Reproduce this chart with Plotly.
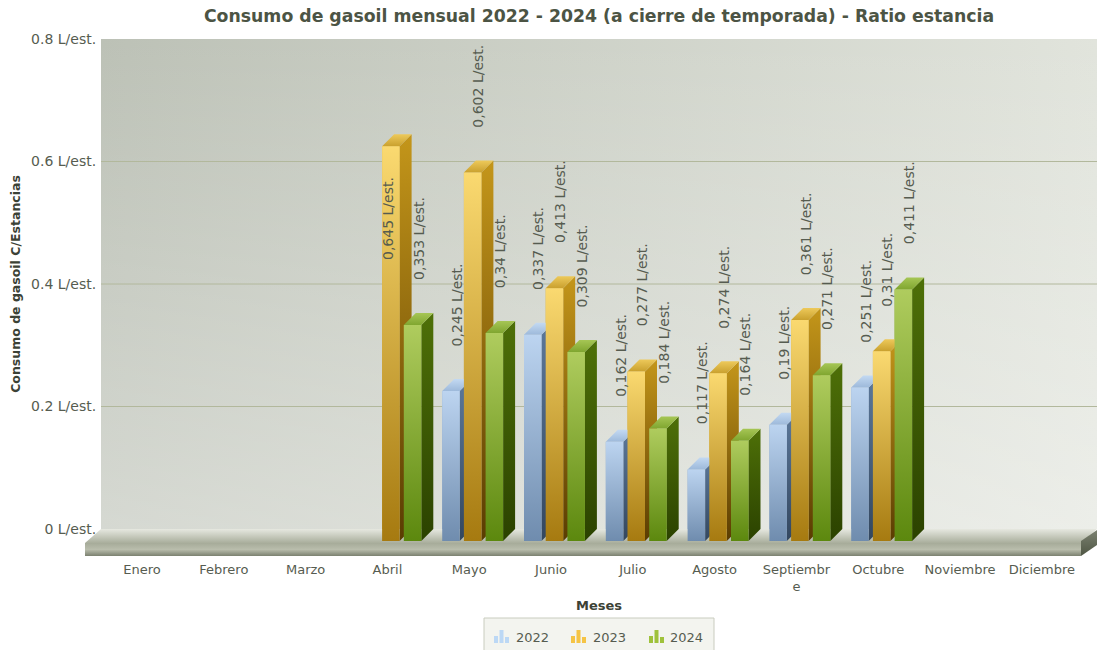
import plotly.graph_objects as go

months = ["Enero","Febrero","Marzo","Abril","Mayo","Junio","Julio","Agosto","Septiembre","Octubre","Noviembre","Diciembre"]
month_ticks = ["Enero","Febrero","Marzo","Abril","Mayo","Junio","Julio","Agosto","Septiembr<br>e","Octubre","Noviembre","Diciembre"]
values_2022 = [None,None,None,None,0.245,0.337,0.162,0.117,0.19,0.251,None,None]
values_2023 = [None,None,None,0.645,0.602,0.413,0.277,0.274,0.361,0.31,None,None]
values_2024 = [None,None,None,0.353,0.34,0.309,0.184,0.164,0.271,0.411,None,None]
y_ticks = [0,0.2,0.4,0.6,0.8]
y_tick_text = ["0 L/est.","0.2 L/est.","0.4 L/est.","0.6 L/est.","0.8 L/est."]

W,H = 1099,650
L,R,T,B = 85,1097,39,556
CAT0,CATW = 142,81.8
YPX,Y0 = 612,541
def cx(px): return (px-CAT0)/CATW
def vy(py): return (Y0-py)/YPX
def px_(x): return (x-L)/(R-L)
def py_(y): return (B-y)/(B-T)

series = [
 dict(name="2022",vals=values_2022,k=0,base="#8fa9c8",front=["#6f8cae","#bcd4f0"],side=["#33475f","#5c789a"],top=["#9db9da","#c3d9f2"],icon="#bcd8f5"),
 dict(name="2023",vals=values_2023,k=1,base="#d0a83a",front=["#a67a10","#fad970"],side=["#5a3c02","#c4961a"],top=["#c9a02e","#edc95a"],icon="#f5c445"),
 dict(name="2024",vals=values_2024,k=2,base="#86a836",front=["#5c880e","#afcc5e"],side=["#2b4200","#4e7008"],top=["#80a630","#a6c655"],icon="#9fc23c"),
]
BW = 17.5/CATW
PITCH = 21.7/CATW
OFF0 = -27/CATW
DX,DY = 12/CATW,12/YPX

fig = go.Figure()

# back wall (xaxis/yaxis)
wx = [0,1,1,0,0]; wy=[0,0,0.8,0.8,0]
fig.add_trace(go.Scatter(x=wx,y=wy,mode="none",fill="toself",hoverinfo="skip",showlegend=False,
    fillgradient=dict(type="horizontal",colorscale=[[0,"#bcc1b6"],[1,"#e1e4dc"]])))
fig.add_trace(go.Scatter(x=wx,y=wy,mode="none",fill="toself",hoverinfo="skip",showlegend=False,
    fillgradient=dict(type="vertical",colorscale=[[0,"rgba(255,255,255,0.38)"],[1,"rgba(255,255,255,0)"]])))
for t in y_ticks[1:4]:
    fig.add_trace(go.Scatter(x=[0,1],y=[t,t],mode="lines",line=dict(color="#b2b89c",width=1),hoverinfo="skip",showlegend=False))

xa,ya = "x2","y2"
def poly(xs,ys,stops):
    fig.add_trace(go.Scatter(x=xs+xs[:1],y=ys+ys[:1],mode="none",fill="toself",xaxis=xa,yaxis=ya,hoverinfo="skip",showlegend=False,
        fillgradient=dict(type="vertical",colorscale=[[i/(len(stops)-1),c] for i,c in enumerate(stops)])))

# floor and plinth
fl,fr,bl,br = cx(85),cx(1081),cx(101),cx(1097)
poly([fl,fr,br,bl],[vy(543),vy(543),vy(529),vy(529)],["#a9ae9c","#e6e8e0"])
poly([fl,fr,fr,fl],[vy(556),vy(556),vy(543),vy(543)],["#7b8170","#b9bdac","#a6ab99"])
poly([fr,br,br,fr],[vy(556),vy(545),vy(530),vy(541)],["#4f5644","#7b8170"])

# real bars
for s in series:
    xs=[i+OFF0+PITCH*s["k"]+BW/2 for i in range(12)]
    fig.add_trace(go.Bar(x=xs,y=s["vals"],width=BW,marker=dict(color=s["base"],line=dict(width=0)),name=s["name"],
        xaxis=xa,yaxis=ya,showlegend=False,hovertemplate="%{y} L/est.<extra>"+s["name"]+"</extra>"))

# 3D faces, left to right so that each bar covers the side of the previous one
for i in range(12):
    for s in series:
        v=s["vals"][i]
        if v is None: continue
        x0=i+OFF0+PITCH*s["k"]; x1=x0+BW
        poly([x1,x1+DX,x1+DX,x1],[0,DY,v+DY,v],s["side"])
        poly([x0,x1,x1+DX,x0+DX],[v,v,v+DY,v+DY],s["top"])
        poly([x0,x1,x1,x0],[0,0,v,v],s["front"])

# value labels
annotations=[]
for i in range(12):
    for s in series:
        v=s["vals"][i]
        if v is None: continue
        x1=i+OFF0+PITCH*s["k"]+BW
        inside = v>0.62
        annotations.append(dict(x=x1-(11 if inside else 3)/CATW,y=v-0.189 if inside else v+0.07,xref="x2",yref="y2",
            text=f"{v:g}".replace(".",",")+" L/est.",textangle=-90,showarrow=False,yanchor="bottom",xanchor="center",
            font=dict(family="DejaVu Sans",size=14,color="#565c50")))
annotations.append(dict(x=px_(599),y=py_(605),xref="paper",yref="paper",text="<b>Meses</b>",showarrow=False,
    xanchor="center",yanchor="middle",font=dict(family="DejaVu Sans",size=13,color="#3c4236")))

# legend box and icon glyphs
shapes=[dict(type="rect",xref="paper",yref="paper",x0=px_(484),x1=px_(714),y0=py_(660),y1=py_(618),
    fillcolor="#f3f4ef",line=dict(color="#c9ccbf",width=1),layer="below")]
for s,ix in zip(series,[494,571,649]):
    for dx,hh in [(0,7),(5.5,13),(11,6)]:
        shapes.append(dict(type="rect",xref="paper",yref="paper",x0=px_(ix+dx),x1=px_(ix+dx+4),y0=py_(643),y1=py_(643-hh),
            fillcolor=s["icon"],line=dict(width=0),layer="above"))
    fig.add_trace(go.Scatter(x=[None],y=[None],mode="markers",name=s["name"],marker=dict(color="rgba(0,0,0,0)",size=8),xaxis=xa,yaxis=ya,hoverinfo="skip"))

fig.update_layout(
    width=W,height=H,
    margin=dict(l=L,r=W-R,t=T,b=H-B,autoexpand=False),
    paper_bgcolor="white",plot_bgcolor="rgba(0,0,0,0)",
    barmode="overlay",
    title=dict(text="<b>Consumo de gasoil mensual 2022 - 2024 (a cierre de temporada) - Ratio estancia</b>",
        x=px_(599),xref="paper",xanchor="center",y=1-16/H,yanchor="middle",yref="container",
        font=dict(family="DejaVu Sans",size=17.3,color="#4c5444")),
    xaxis=dict(domain=[px_(101),1],range=[0,1],visible=False,fixedrange=True),
    yaxis=dict(domain=[py_(529),1],range=[0,0.8],tickvals=y_ticks,ticktext=y_tick_text,
        tickfont=dict(family="DejaVu Sans",size=14,color="#565c50"),
        showgrid=False,zeroline=False,ticks="outside",ticklen=1,tickcolor="rgba(0,0,0,0)",showline=False,
        title=dict(text="<b>Consumo de gasoil C/Estancias</b>",font=dict(family="DejaVu Sans",size=12.5,color="#3c4236"),standoff=7)),
    xaxis2=dict(domain=[0,1],range=[cx(L),cx(R)],anchor="y2",tickvals=list(range(12)),ticktext=month_ticks,
        tickfont=dict(family="DejaVu Sans",size=13,color="#565c50"),
        showgrid=False,zeroline=False,ticks="outside",ticklen=1,tickcolor="rgba(0,0,0,0)",showline=False),
    yaxis2=dict(domain=[0,1],range=[vy(B),vy(T)],anchor="x2",visible=False),
    annotations=annotations,shapes=shapes,
    showlegend=True,
    legend=dict(orientation="h",x=px_(476),xanchor="left",y=py_(622),yanchor="top",bgcolor="rgba(0,0,0,0)",borderwidth=0,
        font=dict(family="DejaVu Sans",size=13,color="#565c50"),entrywidth=32,entrywidthmode="pixels",itemclick=False,itemdoubleclick=False),
)
fig.write_html("out.html",config=dict(displayModeBar=False),post_script="document.body.style.margin='0';")
